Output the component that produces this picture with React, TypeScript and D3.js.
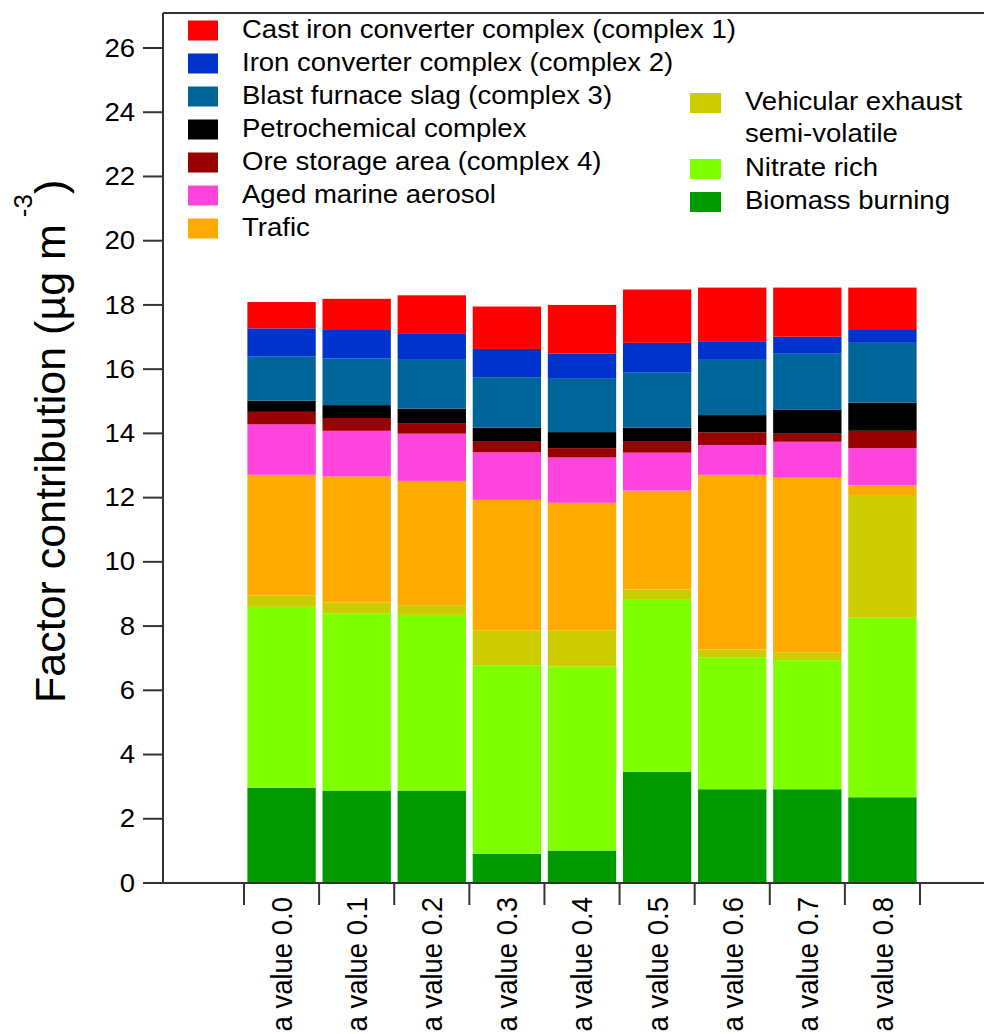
import React from "react";
import * as d3 from "d3";

const categories = [
  "a value 0.0", "a value 0.1", "a value 0.2", "a value 0.3", "a value 0.4",
  "a value 0.5", "a value 0.6", "a value 0.7", "a value 0.8",
];

// Stack order: bottom to top
const biomassBurning = [2.97, 2.88, 2.88, 0.91, 1.01, 3.46, 2.92, 2.92, 2.67];
const nitrateRich = [5.63, 5.52, 5.47, 5.87, 5.73, 5.38, 4.11, 4.02, 5.59];
const vehicularExhaust = [0.35, 0.34, 0.30, 1.08, 1.12, 0.30, 0.24, 0.23, 3.82];
const trafic = [3.76, 3.92, 3.87, 4.07, 3.98, 3.08, 5.44, 5.45, 0.30];
const agedMarine = [1.57, 1.42, 1.47, 1.48, 1.41, 1.18, 0.93, 1.12, 1.16];
const oreStorage = [0.39, 0.40, 0.33, 0.33, 0.29, 0.34, 0.39, 0.25, 0.54];
const petrochemical = [0.35, 0.40, 0.45, 0.44, 0.50, 0.44, 0.54, 0.74, 0.88];
const blastFurnace = [1.37, 1.45, 1.52, 1.57, 1.66, 1.71, 1.72, 1.75, 1.86];
const ironConverter = [0.88, 0.89, 0.83, 0.88, 0.79, 0.93, 0.58, 0.53, 0.40];
const castIron = [0.82, 0.97, 1.18, 1.32, 1.51, 1.66, 1.67, 1.53, 1.32];

const yTicks = [0, 2, 4, 6, 8, 10, 12, 14, 16, 18, 20, 22, 24, 26];

const series = [
  { key: "biomass", label: "Biomass burning", color: "#009900", values: biomassBurning },
  { key: "nitrate", label: "Nitrate rich", color: "#80FF00", values: nitrateRich },
  { key: "vehicular", label: "Vehicular exhaust|semi-volatile", color: "#CCCC00", values: vehicularExhaust },
  { key: "trafic", label: "Trafic", color: "#FFAA00", values: trafic },
  { key: "marine", label: "Aged marine aerosol", color: "#FF44DD", values: agedMarine },
  { key: "ore", label: "Ore storage area (complex 4)", color: "#990000", values: oreStorage },
  { key: "petro", label: "Petrochemical complex", color: "#000000", values: petrochemical },
  { key: "blast", label: "Blast furnace slag (complex 3)", color: "#006699", values: blastFurnace },
  { key: "iron", label: "Iron converter complex (complex 2)", color: "#0033CC", values: ironConverter },
  { key: "cast", label: "Cast iron converter complex (complex 1)", color: "#FF0000", values: castIron },
];

const leftLegendKeys = ["cast", "iron", "blast", "petro", "ore", "marine", "trafic"];
const rightLegendKeys = ["vehicular", "nitrate", "biomass"];

const FONT = "'Liberation Sans', Arial, Helvetica, sans-serif";

export default function App() {
  const W = 984;
  const H = 1034;
  const axisX = 163;
  const axisY = 883;
  const topY = 13;

  const y = d3.scaleLinear().domain([0, 27.09]).range([axisY, topY]);
  const x = d3
    .scaleBand<string>()
    .domain(categories)
    .range([244, 920])
    .paddingInner(0.09)
    .paddingOuter(0.045);

  const rows = categories.map((c, i) => {
    const r: any = { cat: c };
    series.forEach((s) => (r[s.key] = s.values[i]));
    return r;
  });
  const stacked = d3.stack().keys(series.map((s) => s.key))(rows);
  const colorOf = (k: string) => series.find((s) => s.key === k)!.color;
  const labelOf = (k: string) => series.find((s) => s.key === k)!.label;

  const step = x.step();
  const r0 = x.range()[0];
  const tickXs = d3.range(categories.length + 1).map((i) => r0 + i * step);

  const sx = 1.08;

  return (
    <svg
      width={W}
      height={H}
      style={{ position: "absolute", left: 0, top: 0, background: "#fff" }}
      fontFamily={FONT}
    >
      {/* bars */}
      {stacked.map((layer) => (
        <g key={layer.key} fill={colorOf(layer.key)}>
          {layer.map((d, i) => (
            <rect
              key={i}
              x={x(categories[i])!}
              width={x.bandwidth()}
              y={y(d[1])}
              height={y(d[0]) - y(d[1])}
            />
          ))}
        </g>
      ))}

      {/* frame / axes */}
      <line x1={axisX} x2={W} y1={topY} y2={topY} stroke="#333" strokeWidth={2} />
      <line x1={axisX} x2={axisX} y1={topY} y2={axisY + 1} stroke="#333" strokeWidth={2} />
      <line x1={axisX} x2={W} y1={axisY} y2={axisY} stroke="#333" strokeWidth={2} />

      {/* y ticks */}
      {yTicks.map((t) => (
        <g key={t}>
          <line x1={axisX - 20} x2={axisX} y1={y(t)} y2={y(t)} stroke="#333" strokeWidth={2} />
          <text
            transform={`translate(135,${y(t)}) scale(${sx},1)`}
            textAnchor="end"
            dominantBaseline="central"
            fontSize={25.5}
            fill="#000"
          >
            {t}
          </text>
        </g>
      ))}

      {/* x ticks */}
      {tickXs.map((tx, i) => (
        <line key={i} x1={tx} x2={tx} y1={axisY} y2={axisY + 22} stroke="#333" strokeWidth={2} />
      ))}
      {categories.map((c) => (
        <text
          key={c}
          transform={`translate(${x(c)! + x.bandwidth() / 2},897) scale(1.1,1) rotate(-90)`}
          textAnchor="end"
          dominantBaseline="central"
          fontSize={27.5}
          fill="#000"
        >
          {c}
        </text>
      ))}

      {/* y title */}
      <text transform="translate(65,703) rotate(-90)" fontSize={43} fill="#000">
        Factor contribution (µg m
        <tspan dx={7} dy={-33} fontSize={26}>-3</tspan>
        <tspan dy={33}>)</tspan>
      </text>

      {/* legend left */}
      {leftLegendKeys.map((k, i) => {
        const top = 20.5 + i * 33;
        return (
          <g key={k}>
            <rect x={188} y={top} width={30} height={20} fill={colorOf(k)} />
            <text
              transform={`translate(242,${top + 17}) scale(${sx},1)`}
              fontSize={25.5}
              fill="#000"
            >
              {labelOf(k)}
            </text>
          </g>
        );
      })}

      {/* legend right */}
      {rightLegendKeys.map((k, i) => {
        const tops = [93, 159, 192];
        const top = tops[i];
        const lines = labelOf(k).split("|");
        return (
          <g key={k}>
            <rect x={690} y={top} width={31} height={20} fill={colorOf(k)} />
            {lines.map((ln, j) => (
              <text
                key={j}
                transform={`translate(745,${top + 17 + j * 32}) scale(${sx},1)`}
                fontSize={25.5}
                fill="#000"
              >
                {ln}
              </text>
            ))}
          </g>
        );
      })}
    </svg>
  );
}
